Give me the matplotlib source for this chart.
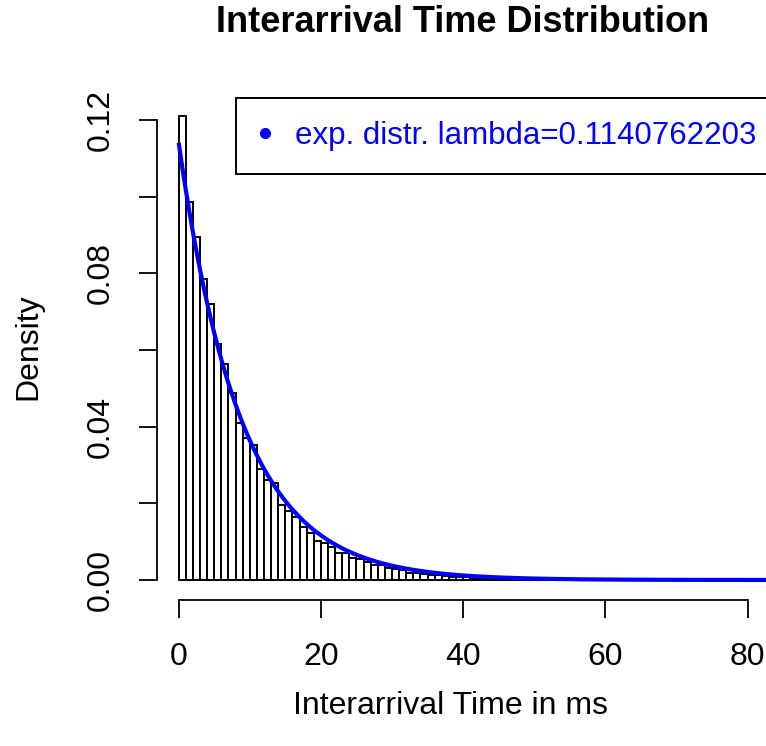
import numpy as np
import matplotlib
matplotlib.use("Agg")
import matplotlib.pyplot as plt
from matplotlib.lines import Line2D

plt.rcParams['font.family'] = ['Liberation Sans', 'DejaVu Sans']

# ---- data ----
bin_width = 1.0
bin_starts = list(range(0, 76))
densities = [
    0.1210, 0.0986, 0.0894, 0.0786, 0.0720, 0.0617, 0.0564, 0.0488, 0.0411, 0.0370,
    0.0353, 0.0289, 0.0261, 0.0252, 0.0195, 0.0180, 0.0165, 0.0139, 0.0123, 0.0103,
    0.0097, 0.0087, 0.0071, 0.0070, 0.0057, 0.0055, 0.0048, 0.0039, 0.0039, 0.0031,
    0.0029, 0.0026, 0.0018, 0.0018, 0.0015, 0.0014, 0.0012, 0.0010, 0.0009, 0.0008,
    0.0007, 0.0006, 0.0005, 0.0004, 0.0004, 0.0003, 0.0003, 0.0002, 0.0002, 0.0002,
    0.0001, 0.0001, 0.0001, 0.0001, 0.0001, 0.0, 0.0, 0.0, 0.0, 0.0,
    0.0, 0.0, 0.0, 0.0, 0.0, 0.0, 0.0, 0.0, 0.0, 0.0,
    0.0, 0.0, 0.0, 0.0, 0.0, 0.0,
]
lam = 0.1140762203
x_ticks = [0, 20, 40, 60, 80]
y_ticks = [0.00, 0.04, 0.08, 0.12]
y_minor = [0.02, 0.06, 0.10]
title = "Interarrival Time Distribution"
xlabel = "Interarrival Time in ms"
ylabel = "Density"
legend_label = "exp. distr. lambda=" + "0.1140762203"

W, H = 766, 746
fig = plt.figure(figsize=(W / 100, H / 100), dpi=100)

# axes region in pixels
L, R, B, T = 157, 766, 600, 60
ax = fig.add_axes([L / W, (H - B) / H, (R - L) / W, (B - T) / H])
ax.set_xlim(-3.05, 82.6)
ax.set_ylim(-0.00522, 0.1357)

ax.bar(bin_starts, densities, width=bin_width, align='edge',
       facecolor='white', edgecolor='black', linewidth=1.4, zorder=2)

xs = np.linspace(0, 100, 600)
ax.plot(xs, lam * np.exp(-lam * xs), color='#0000FF', linewidth=3.0, zorder=3,
        solid_capstyle='butt')

for s in ['top', 'right']:
    ax.spines[s].set_visible(False)
ax.spines['left'].set_bounds(0, 0.12)
ax.spines['bottom'].set_bounds(0, 80)
ax.spines['left'].set_linewidth(1.3)
ax.spines['bottom'].set_linewidth(1.3)

ax.set_xticks(x_ticks)
ax.set_xticklabels([str(v) for v in x_ticks], fontsize=23)
all_y = sorted(y_ticks + y_minor)
ax.set_yticks(all_y)
ax.set_yticklabels([f"{v:.2f}" if v in y_ticks else "" for v in all_y],
                   fontsize=23, rotation=90, va='center')
ax.tick_params(axis='both', direction='out', length=13, width=1.3, colors='black')
ax.tick_params(axis='x', pad=17.5)
ax.tick_params(axis='y', pad=16.5)

fig.text(463 / W, 1 - 22 / H, title, fontsize=26, fontweight='bold',
         ha='center', va='center')
fig.text(450 / W, 1 - 706 / H, xlabel, fontsize=23, ha='center', va='center')
fig.text(28 / W, 1 - 347 / H, ylabel, fontsize=23, ha='center', va='center',
         rotation=90)

handle = Line2D([], [], linestyle='none', marker='o', markersize=7,
                color='#0000FF')
leg = fig.legend([handle], [legend_label], loc='upper left',
                 bbox_to_anchor=(236 / W, 1 - 97.5 / H), borderaxespad=0,
                 fontsize=22.5, labelcolor='#0000FF', fancybox=False,
                 edgecolor='black', framealpha=1, borderpad=0.75,
                 handlelength=0.35, handletextpad=0.8)
leg.get_frame().set_linewidth(1.4)

fig.savefig("out.png", dpi=100)
